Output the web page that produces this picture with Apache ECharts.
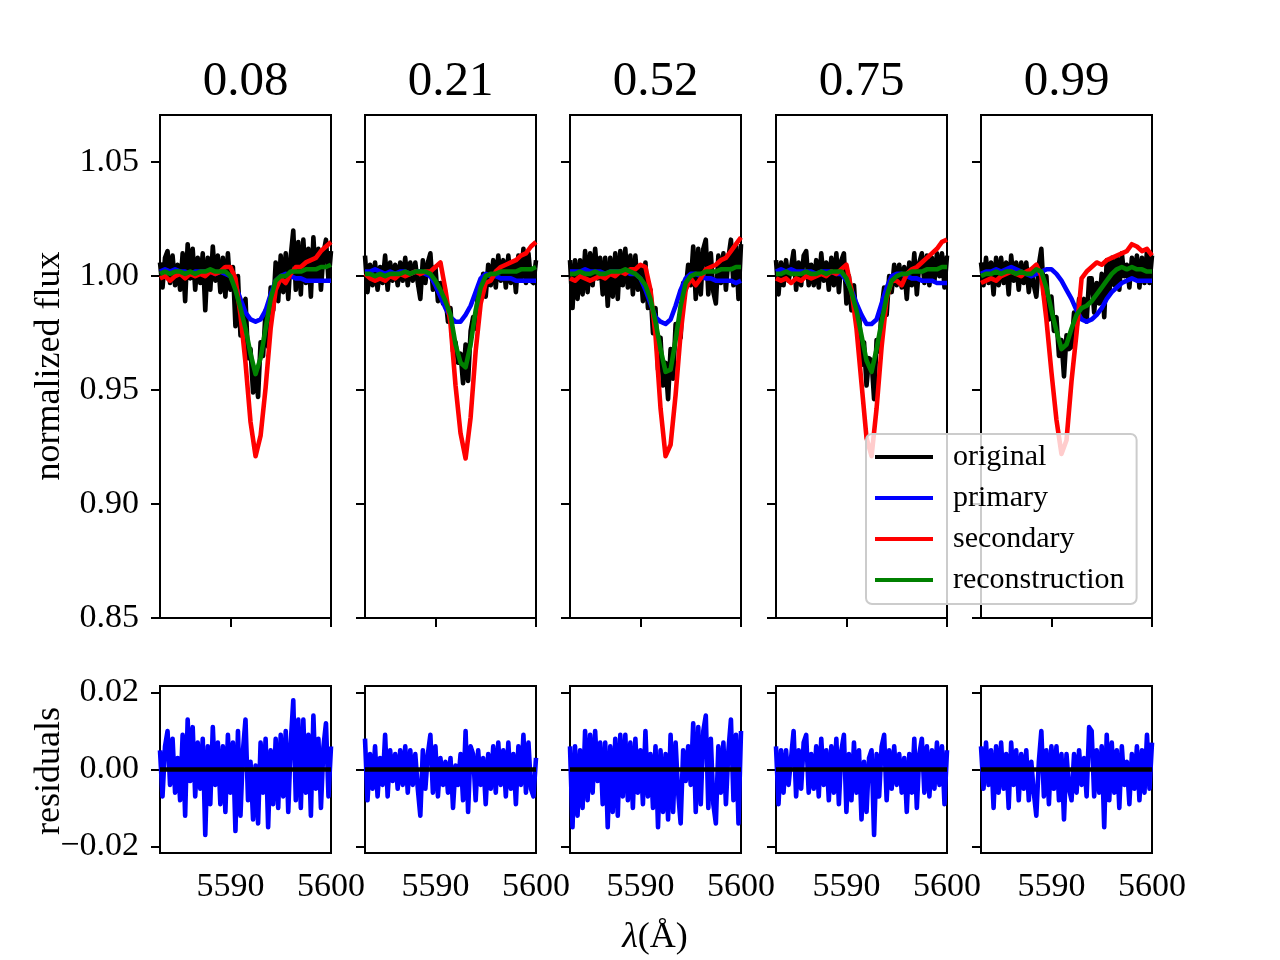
<!DOCTYPE html>
<html><head><meta charset="utf-8">
<script src="https://cdn.jsdelivr.net/npm/echarts@6/dist/echarts.min.js"></script>
<style>html,body{margin:0;padding:0;background:#fff}#c{width:1280px;height:960px}</style>
</head><body><div id="c"></div>
<script>
// ---------- data ----------
const phases = ['0.08', '0.21', '0.52', '0.75', '0.99'];
const seriesNames = ['original', 'primary', 'secondary', 'reconstruction'];
const xTicks = [5590, 5600];
const yFluxTicks = [0.85, 0.90, 0.95, 1.00, 1.05];
const yResTicks = [-0.02, 0.00, 0.02];

const xCoarse = [5583,5583.5,5584,5584.5,5585,5585.5,5586,5586.5,5587,5587.5,5588,5588.5,5589,5589.5,5590,5590.5,5591,5591.5,5592,5592.5,5593,5593.5,5594,5594.5,5595,5595.5,5596,5596.5,5597,5597.5,5598,5598.5,5599,5599.5,5600];
const xFine = [5583,5583.25,5583.5,5583.75,5584,5584.25,5584.5,5584.75,5585,5585.25,5585.5,5585.75,5586,5586.25,5586.5,5586.75,5587,5587.25,5587.5,5587.75,5588,5588.25,5588.5,5588.75,5589,5589.25,5589.5,5589.75,5590,5590.25,5590.5,5590.75,5591,5591.25,5591.5,5591.75,5592,5592.25,5592.5,5592.75,5593,5593.25,5593.5,5593.75,5594,5594.25,5594.5,5594.75,5595,5595.25,5595.5,5595.75,5596,5596.25,5596.5,5596.75,5597,5597.25,5597.5,5597.75,5598,5598.25,5598.5,5598.75,5599,5599.25,5599.5,5599.75,5600];

// phase 0.08
const prim008 = [1.002,1.003,1.002,1.003,1.002,1.002,1.001,1.002,1.002,1.002,1.002,1.001,1.002,1.001,1.000,0.996,0.990,0.984,0.981,0.980,0.981,0.985,0.992,0.998,1.000,1.001,1.000,0.999,0.999,0.998,0.998,0.998,0.998,0.998,0.998];
const sec008 = [0.999,1.000,0.998,1.000,1.001,0.999,1.001,1.000,1.001,1.000,1.002,1.001,1.002,1.004,1.004,0.999,0.983,0.962,0.936,0.921,0.930,0.951,0.977,0.994,0.999,0.997,1.001,1.004,1.004,1.006,1.007,1.008,1.011,1.013,1.015];
const rec008 = [1.001,1.002,1.001,1.002,1.002,1.001,1.002,1.001,1.002,1.002,1.003,1.002,1.002,1.002,1.000,0.994,0.986,0.977,0.966,0.957,0.964,0.977,0.990,0.998,1.000,1.000,1.002,1.002,1.002,1.003,1.003,1.003,1.004,1.004,1.005];
const orig008 = [1.006,0.995,1.008,1.011,0.997,1.009,0.996,1.005,0.994,1.010,0.989,1.014,0.999,1.012,0.994,1.008,0.997,1.010,0.985,1.008,0.994,1.013,0.998,1.009,0.993,1.008,0.991,1.010,0.994,1.004,0.978,1.000,0.974,0.987,0.990,0.964,0.968,0.949,0.958,0.947,0.971,0.965,0.985,0.969,0.995,0.985,1.006,0.989,1.009,0.993,1.010,0.990,1.009,1.020,0.994,1.015,0.992,1.016,0.997,1.012,0.991,1.017,0.998,1.012,0.994,1.010,1.016,0.998,1.011];
const res008 = [0.005,-0.007,0.006,0.010,-0.004,0.008,-0.006,0.003,-0.008,0.009,-0.012,0.013,-0.003,0.011,-0.007,0.007,-0.005,0.008,-0.017,0.006,-0.009,0.011,-0.004,0.007,-0.009,0.006,-0.011,0.009,-0.006,0.007,-0.016,0.010,-0.012,0.005,0.013,-0.008,0.002,-0.013,0.001,-0.014,0.007,-0.006,0.008,-0.015,0.005,-0.009,0.008,-0.010,0.009,-0.007,0.010,-0.011,0.007,0.018,-0.008,0.013,-0.010,0.013,-0.006,0.009,-0.012,0.014,-0.005,0.008,-0.010,0.006,0.012,-0.007,0.006];

// phase 0.21
const prim021 = [1.002,1.002,1.003,1.002,1.001,1.002,1.001,1.002,1.002,1.001,1.002,1.002,1.001,1.000,0.996,0.991,0.986,0.982,0.980,0.980,0.983,0.987,0.993,0.999,1.001,1.000,1.000,0.999,0.999,0.999,0.998,0.998,0.998,0.998,0.998];
const sec021 = [1.001,0.999,0.998,0.999,0.998,1.000,0.999,1.001,1.000,1.001,1.002,1.001,1.002,1.002,1.004,1.006,0.994,0.979,0.952,0.931,0.920,0.938,0.967,0.988,0.997,0.998,1.002,1.004,1.005,1.006,1.007,1.009,1.010,1.013,1.015];
const rec021 = [1.001,1.001,1.000,1.001,1.000,1.001,1.001,1.001,1.002,1.001,1.002,1.002,1.002,1.001,0.998,0.994,0.989,0.983,0.970,0.962,0.960,0.970,0.985,0.995,1.000,1.001,1.001,1.002,1.002,1.002,1.002,1.003,1.003,1.003,1.004];
const orig021 = [1.009,0.993,1.005,0.996,1.006,0.994,1.004,0.997,1.009,0.994,1.006,0.998,1.005,0.996,1.006,0.998,1.008,0.996,1.006,0.998,1.006,0.997,0.990,1.007,0.997,1.006,1.010,0.994,1.004,0.989,0.997,0.988,0.991,0.980,0.986,0.967,0.971,0.962,0.966,0.953,0.970,0.954,0.976,0.982,0.977,0.995,0.991,1.001,0.991,1.005,0.996,1.007,0.995,1.009,0.998,1.007,0.995,1.009,0.997,1.006,0.993,1.009,0.999,1.012,0.997,1.010,0.998,0.997,1.007];
const res021 = [0.008,-0.008,0.004,-0.005,0.006,-0.007,0.003,-0.004,0.009,-0.007,0.005,-0.003,0.004,-0.005,0.005,-0.004,0.006,-0.006,0.005,-0.004,0.004,-0.005,-0.012,0.005,-0.005,0.004,0.009,-0.006,0.006,-0.007,0.003,-0.004,0.002,-0.006,0.003,-0.010,0.001,-0.004,0.004,-0.008,0.010,-0.011,0.006,0.004,-0.008,0.005,-0.004,0.003,-0.009,0.004,-0.005,0.006,-0.006,0.007,-0.004,0.005,-0.007,0.007,-0.005,0.004,-0.009,0.006,-0.004,0.009,-0.006,0.007,-0.005,-0.007,0.003];

// phase 0.52
const prim052 = [1.002,1.002,1.002,1.003,1.002,1.002,1.002,1.001,1.002,1.002,1.002,1.002,1.001,1.001,0.999,0.994,0.988,0.982,0.980,0.979,0.981,0.987,0.994,0.999,1.001,1.001,1.000,0.999,0.999,0.998,0.998,0.998,0.998,0.997,0.998];
const sec052 = [0.999,0.998,1.000,0.999,0.998,0.999,1.000,0.999,1.001,1.000,1.002,1.001,1.003,1.003,1.005,1.004,0.994,0.974,0.942,0.921,0.926,0.948,0.975,0.994,0.999,0.996,0.999,1.003,1.004,1.005,1.007,1.008,1.011,1.014,1.017];
const rec052 = [1.001,1.001,1.002,1.001,1.001,1.002,1.001,1.001,1.002,1.002,1.002,1.003,1.002,1.001,0.999,0.996,0.990,0.980,0.968,0.958,0.959,0.972,0.987,0.997,1.000,1.001,1.001,1.002,1.002,1.002,1.003,1.003,1.003,1.004,1.004];
const orig052 = [1.007,0.986,1.007,0.990,1.007,0.992,1.011,0.993,1.010,0.996,1.012,0.999,1.008,0.992,1.008,0.987,1.008,0.991,1.010,0.990,1.011,0.996,1.012,0.995,1.009,0.992,1.009,0.994,1.004,0.989,1.006,0.986,0.994,0.975,0.986,0.959,0.973,0.952,0.962,0.946,0.968,0.955,0.979,0.974,0.973,0.997,0.994,1.005,0.996,1.013,0.990,1.012,0.992,1.012,1.016,0.992,1.010,0.993,0.988,1.009,0.997,1.010,0.994,1.008,1.016,0.996,1.013,0.990,1.014];
const res052 = [0.006,-0.015,0.006,-0.012,0.005,-0.010,0.010,-0.008,0.009,-0.006,0.010,-0.003,0.007,-0.009,0.007,-0.015,0.006,-0.011,0.008,-0.012,0.009,-0.007,0.009,-0.008,0.007,-0.010,0.008,-0.006,0.005,-0.009,0.010,-0.007,0.004,-0.010,0.006,-0.015,0.005,-0.011,0.004,-0.013,0.009,-0.011,0.007,-0.006,-0.014,0.005,-0.003,0.006,-0.004,0.012,-0.011,0.011,-0.009,0.010,0.014,-0.010,0.008,-0.009,-0.014,0.006,-0.006,0.007,-0.009,0.005,0.013,-0.008,0.009,-0.014,0.010];

// phase 0.75
const prim075 = [1.002,1.003,1.002,1.003,1.002,1.002,1.002,1.002,1.001,1.002,1.002,1.002,1.001,1.001,0.998,0.994,0.988,0.983,0.979,0.979,0.981,0.988,0.995,1.000,1.001,1.001,1.000,0.999,0.999,0.998,0.998,0.998,0.997,0.997,0.997];
const sec075 = [0.999,0.998,0.999,0.997,0.999,0.998,1.000,0.999,1.000,1.001,1.000,1.002,1.001,1.003,1.005,0.994,0.977,0.953,0.929,0.921,0.942,0.969,0.990,0.998,0.998,0.996,1.001,1.003,1.004,1.006,1.008,1.010,1.012,1.015,1.016];
const rec075 = [1.001,1.001,1.002,1.001,1.001,1.001,1.002,1.001,1.001,1.002,1.001,1.002,1.002,1.002,0.999,0.993,0.985,0.974,0.963,0.958,0.968,0.980,0.991,0.998,1.000,1.001,1.001,1.002,1.002,1.002,1.003,1.003,1.003,1.004,1.004];
const orig075 = [1.007,0.992,1.006,0.996,1.007,0.998,1.004,1.011,0.994,1.006,0.996,1.009,1.011,0.996,1.005,0.996,1.007,0.995,1.010,0.998,1.006,0.994,1.008,0.996,1.010,0.993,1.007,1.010,0.988,1.000,0.985,0.996,0.979,0.985,0.961,0.971,0.952,0.964,0.963,0.946,0.972,0.967,0.986,0.995,0.983,1.000,0.993,1.005,0.996,1.005,0.995,1.004,0.990,1.006,0.996,1.010,0.992,1.006,1.010,0.997,1.009,0.996,1.008,0.998,1.010,1.000,1.010,0.995,1.009];
const res075 = [0.006,-0.009,0.005,-0.006,0.005,-0.004,0.003,0.010,-0.007,0.005,-0.005,0.007,0.009,-0.006,0.004,-0.005,0.006,-0.007,0.008,-0.004,0.005,-0.008,0.006,-0.006,0.008,-0.009,0.005,0.009,-0.011,0.004,-0.008,0.007,-0.006,0.005,-0.013,0.002,-0.011,0.003,0.005,-0.017,0.004,-0.007,0.006,0.009,-0.008,0.005,-0.005,0.006,-0.004,0.004,-0.006,0.003,-0.011,0.004,-0.006,0.008,-0.010,0.004,0.008,-0.006,0.006,-0.007,0.005,-0.005,0.007,-0.004,0.006,-0.009,0.005];

// phase 0.99
const prim099 = [1.001,1.002,1.002,1.003,1.002,1.003,1.004,1.003,1.002,1.001,1.000,1.001,1.002,1.003,1.003,1.001,0.998,0.994,0.990,0.985,0.981,0.980,0.981,0.983,0.986,0.990,0.993,0.995,0.997,0.998,0.999,0.998,0.998,0.998,0.998];
const sec099 = [0.997,0.998,0.999,0.998,1.000,1.001,1.002,1.001,1.000,1.002,1.003,1.005,1.000,0.981,0.958,0.937,0.922,0.928,0.954,0.975,0.999,1.002,1.004,1.006,1.005,1.007,1.008,1.009,1.010,1.011,1.014,1.013,1.011,1.012,1.009];
const rec099 = [1.000,1.001,1.001,1.002,1.001,1.002,1.002,1.001,1.002,1.001,1.001,1.003,1.002,0.995,0.985,0.976,0.968,0.970,0.977,0.983,0.986,0.987,0.989,0.992,0.995,0.998,1.001,1.003,1.004,1.003,1.004,1.003,1.003,1.002,1.002];
const orig099 = [1.006,0.996,1.008,0.997,1.006,0.992,1.008,0.996,1.008,0.997,1.006,0.992,1.009,0.998,1.006,0.994,1.006,0.997,1.006,0.993,1.003,0.996,0.991,1.005,1.012,0.992,1.000,0.981,0.991,0.976,0.982,0.965,0.972,0.956,0.974,0.968,0.969,0.984,0.977,0.990,0.982,0.990,0.980,0.999,0.999,0.984,0.997,0.988,1.001,0.982,1.007,0.992,1.008,0.996,1.008,0.994,1.010,1.000,1.005,0.995,1.008,0.999,1.009,0.995,1.008,0.997,1.011,0.997,1.009];
const res099 = [0.006,-0.005,0.007,-0.004,0.005,-0.010,0.006,-0.006,0.007,-0.005,0.004,-0.010,0.007,-0.004,0.005,-0.008,0.004,-0.005,0.005,-0.008,0.002,-0.006,-0.012,0.002,0.010,-0.007,0.005,-0.009,0.006,-0.005,0.006,-0.008,0.004,-0.013,0.004,-0.005,-0.008,0.004,-0.006,0.005,-0.004,0.003,-0.007,0.011,0.010,-0.007,0.005,-0.006,0.006,-0.015,0.009,-0.008,0.007,-0.006,0.005,-0.010,0.006,-0.004,0.002,-0.009,0.004,-0.005,0.006,-0.008,0.005,-0.006,0.009,-0.005,0.007];

// ---------- layout / style ----------
const panels = [
  {orig: orig008, prim: prim008, sec: sec008, rec: rec008, res: res008},
  {orig: orig021, prim: prim021, sec: sec021, rec: rec021, res: res021},
  {orig: orig052, prim: prim052, sec: sec052, rec: rec052, res: res052},
  {orig: orig075, prim: prim075, sec: sec075, rec: rec075, res: res075},
  {orig: orig099, prim: prim099, sec: sec099, rec: rec099, res: res099}
];
const FONT = "'Liberation Serif', 'DejaVu Serif', serif";
const lefts = [160, 365, 570, 776, 981];
const PW = 171;
const colors = {original: '#000000', primary: '#0000ff', secondary: '#ff0000', reconstruction: '#008000'};
const LW = 4.6;

const pair = (xs, ys) => xs.map((x, i) => [x, ys[i]]);
const fmtRes = v => (v < -1e-9 ? '\u2212' : '') + Math.abs(v).toFixed(2);

const grids = [], xAxes = [], yAxes = [], series = [];
const tickStyle = {show: true, inside: false, length: 9, lineStyle: {color: '#000', width: 2}};

panels.forEach((p, k) => {
  const gTop = 2 * k, gBot = 2 * k + 1;
  grids.push({left: lefts[k], top: 115, width: PW, height: 503, show: true, borderColor: '#000', borderWidth: 2, backgroundColor: 'transparent', containLabel: false, outerBoundsMode: 'none'});
  grids.push({left: lefts[k], top: 686, width: PW, height: 167, show: true, borderColor: '#000', borderWidth: 2, backgroundColor: 'transparent', containLabel: false, outerBoundsMode: 'none'});

  xAxes.push({type: 'value', gridIndex: gTop, min: 5583, max: 5600, axisLine: {show: false}, splitLine: {show: false},
    axisTick: Object.assign({}, tickStyle, {customValues: xTicks}), axisLabel: {show: false}});
  xAxes.push({type: 'value', gridIndex: gBot, min: 5583, max: 5600, axisLine: {show: false}, splitLine: {show: false},
    axisTick: Object.assign({}, tickStyle, {customValues: xTicks}),
    axisLabel: {show: true, customValues: xTicks, margin: 17, color: '#000', fontFamily: FONT, fontSize: 34, formatter: v => String(Math.round(v))}});

  yAxes.push({type: 'value', gridIndex: gTop, min: 0.85, max: 1.0707, axisLine: {show: false}, splitLine: {show: false},
    axisTick: Object.assign({}, tickStyle, {customValues: yFluxTicks}),
    axisLabel: {show: k === 0, customValues: yFluxTicks, margin: 21, color: '#000', fontFamily: FONT, fontSize: 34, formatter: v => v.toFixed(2)}});
  yAxes.push({type: 'value', gridIndex: gBot, min: -0.0217, max: 0.0217, axisLine: {show: false}, splitLine: {show: false},
    axisTick: Object.assign({}, tickStyle, {customValues: yResTicks}),
    axisLabel: {show: k === 0, customValues: yResTicks, margin: 21, color: '#000', fontFamily: FONT, fontSize: 34, formatter: fmtRes}});

  const mk = (name, xs, ys) => ({
    type: 'line', name: name, xAxisIndex: gTop, yAxisIndex: gTop, data: pair(xs, ys),
    symbol: 'none', showSymbol: false, animation: false, silent: true,
    lineStyle: {color: colors[name], width: LW, join: 'round'}, itemStyle: {color: colors[name]}
  });
  series.push(mk('original', xFine, p.orig));
  series.push(mk('primary', xCoarse, p.prim));
  series.push(mk('secondary', xCoarse, p.sec));
  series.push(mk('reconstruction', xCoarse, p.rec));
  series.push({
    type: 'line', name: 'residuals', xAxisIndex: gBot, yAxisIndex: gBot, data: pair(xFine, p.res),
    symbol: 'none', showSymbol: false, animation: false, silent: true,
    lineStyle: {color: '#0000ff', width: LW, join: 'round'}, itemStyle: {color: '#0000ff'},
    markLine: {silent: true, symbol: 'none', animation: false, label: {show: false},
      lineStyle: {color: '#000', width: LW, type: 'solid'}, emphasis: {disabled: true}, data: [{yAxis: 0}]}
  });
});

const graphic = phases.map((t, k) => ({
  type: 'text', x: lefts[k] + PW / 2, y: 82, silent: true,
  style: {text: t, font: `49px ${FONT}`, fill: '#000', textAlign: 'center', textVerticalAlign: 'middle', align: 'center', verticalAlign: 'middle'}
}));
graphic.push({type: 'text', x: 50, y: 366, rotation: Math.PI / 2, silent: true,
  style: {text: 'normalized flux', font: `36px ${FONT}`, fill: '#000', textAlign: 'center', textVerticalAlign: 'middle', align: 'center', verticalAlign: 'middle'}});
graphic.push({type: 'text', x: 50, y: 771, rotation: Math.PI / 2, silent: true,
  style: {text: 'residuals', font: `36px ${FONT}`, fill: '#000', textAlign: 'center', textVerticalAlign: 'middle', align: 'center', verticalAlign: 'middle'}});
graphic.push({type: 'text', x: 655, y: 938, silent: true,
  style: {text: '{i|\u03bb}(\u00c5)', font: `36px ${FONT}`, fill: '#000', textAlign: 'center', textVerticalAlign: 'middle', align: 'center', verticalAlign: 'middle',
    rich: {i: {fontStyle: 'italic', fontFamily: FONT, fontSize: 36, fill: '#000', color: '#000'}}}});

const chart = echarts.init(document.getElementById('c'), null, {renderer: 'canvas', width: 1280, height: 960});
chart.setOption({
  animation: false,
  backgroundColor: '#ffffff',
  textStyle: {fontFamily: FONT},
  grid: grids,
  xAxis: xAxes,
  yAxis: yAxes,
  legend: {
    data: seriesNames.map(n => ({name: n, icon: 'rect', itemStyle: {color: colors[n]}})),
    orient: 'vertical', left: 866, top: 434,
    itemWidth: 58, itemHeight: 4, itemGap: 11, padding: [8, 12, 9, 9],
    backgroundColor: 'rgba(255,255,255,0.8)', borderColor: '#cccccc', borderWidth: 2, borderRadius: 6,
    textStyle: {fontFamily: FONT, fontSize: 30, color: '#000', padding: [0, 0, 0, 15]},
    selectedMode: false, z: 20
  },
  graphic: graphic,
  series: series
});
</script>
</body></html>
